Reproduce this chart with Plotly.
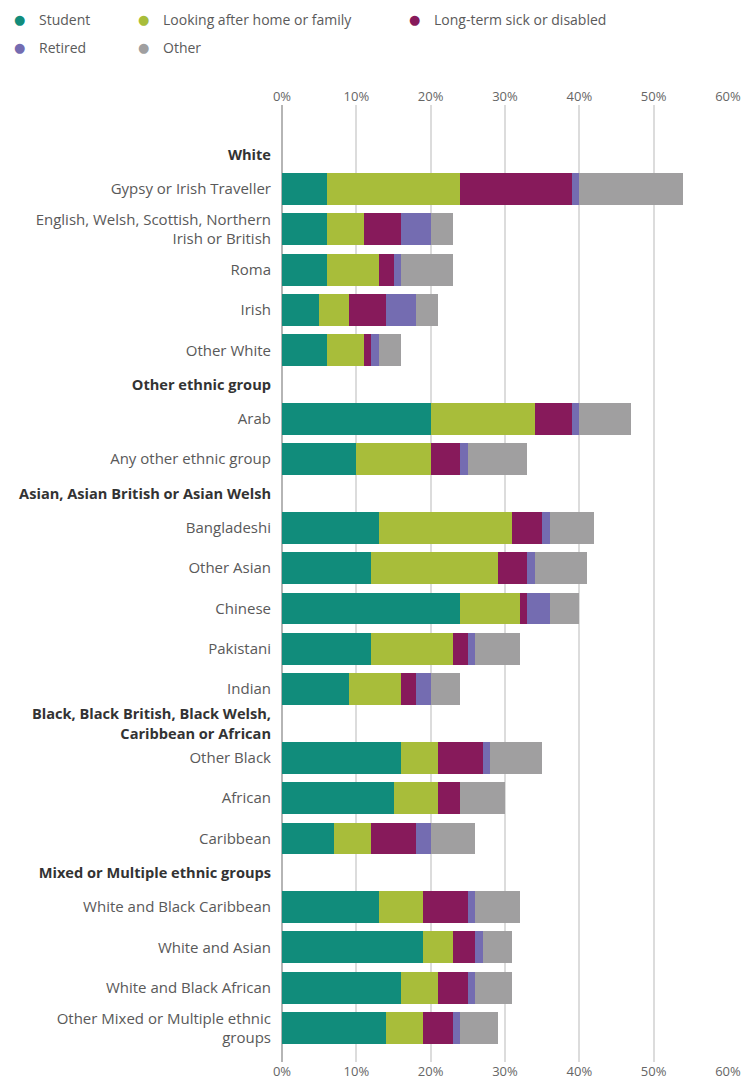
import plotly.graph_objects as go

# ---- data -----------------------------------------------------------------
series_names = ["Student", "Looking after home or family", "Long-term sick or disabled", "Retired", "Other"]
series_colors = ["#118c7b", "#a8bd3a", "#871a5b", "#746cb1", "#a09fa0"]

headings = [
    "White",
    "Other ethnic group",
    "Asian, Asian British or Asian Welsh",
    "Black, Black British, Black Welsh,<br>Caribbean or African",
    "Mixed or Multiple ethnic groups",
]

categories = [
    "Gypsy or Irish Traveller", "English, Welsh, Scottish, Northern<br>Irish or British", "Roma", "Irish", "Other White",
    "Arab", "Any other ethnic group",
    "Bangladeshi", "Other Asian", "Chinese", "Pakistani", "Indian",
    "Other Black", "African", "Caribbean",
    "White and Black Caribbean", "White and Asian", "White and Black African", "Other Mixed or Multiple ethnic<br>groups",
]
category_group = [0, 0, 0, 0, 0, 1, 1, 2, 2, 2, 2, 2, 3, 3, 3, 4, 4, 4, 4]

student = [6, 6, 6, 5, 6, 20, 10, 13, 12, 24, 12, 9, 16, 15, 7, 13, 19, 16, 14]
looking_after = [18, 5, 7, 4, 5, 14, 10, 18, 17, 8, 11, 7, 5, 6, 5, 6, 4, 5, 5]
long_term_sick = [15, 5, 2, 5, 1, 5, 4, 4, 4, 1, 2, 2, 6, 3, 6, 6, 3, 4, 4]
retired = [1, 4, 1, 4, 1, 1, 1, 1, 1, 3, 1, 2, 1, 0, 2, 1, 1, 1, 1]
other = [14, 3, 7, 3, 3, 7, 8, 6, 7, 4, 6, 4, 7, 6, 6, 6, 4, 5, 5]

x_ticks = [0, 10, 20, 30, 40, 50, 60]
x_tick_labels = ["0%", "10%", "20%", "30%", "40%", "50%", "60%"]

# ---- geometry ---------------------------------------------------------------
W, H = 744, 1084
M_L, M_R, M_T, M_B = 282, 16, 105, 22
PW, PH = W - M_L - M_R, H - M_T - M_B

# ---- row positions (headings take less room than bars) ---------------------
HEAD_STEP = 0.85
pos = 0.0
prev_group = None
cat_pos = []
tickvals, ticktext = [], []
first = True
for name, g in zip(categories, category_group):
    if g != prev_group:
        if not first:
            pos += HEAD_STEP
        tickvals.append(pos)
        ticktext.append("<span style='color:#333333;font-size:14.6px'><b>" + headings[g] + "</b></span>")
        pos += HEAD_STEP
        prev_group = g
    elif not first:
        pos += 1.0
    first = False
    cat_pos.append(pos)
    tickvals.append(pos)
    ticktext.append(name)

y_top = tickvals[0] - 1.23
y_bottom = cat_pos[-1] + 0.84

values = [student, looking_after, long_term_sick, retired, other]

fig = go.Figure()
for name, color, vals in zip(series_names, series_colors, values):
    fig.add_trace(go.Bar(
        x=vals, y=cat_pos, orientation="h", name=name,
        marker=dict(color=color, line=dict(width=0)),
        width=0.79, showlegend=False,
    ))

# invisible trace so the top axis is drawn
fig.add_trace(go.Scatter(x=[0], y=[cat_pos[0]], xaxis="x2", mode="markers",
                         marker=dict(opacity=0), showlegend=False, hoverinfo="skip"))

# ---- legend (two rows, three columns) as annotations -----------------------
legend_marker_px = [(19, 19), (143, 19), (414, 19), (19, 47), (143, 47)]
legend_text_dx = 18
annotations = []
for (mx, my), name, color in zip(legend_marker_px, series_names, series_colors):
    yp = (H - M_B - my) / PH
    annotations.append(dict(
        text="●", x=(mx - M_L) / PW, y=yp, xref="paper", yref="paper",
        xanchor="center", yanchor="middle", showarrow=False,
        font=dict(family="DejaVu Sans", size=13, color=color),
    ))
    annotations.append(dict(
        text=name, x=(mx + legend_text_dx - M_L) / PW, y=yp, xref="paper", yref="paper",
        xanchor="left", yanchor="middle", showarrow=False,
        font=dict(family="Open Sans", size=14, color="#5a5a5a"),
    ))

fig.update_layout(
    width=W, height=H,
    margin=dict(l=M_L, r=M_R, t=M_T, b=M_B, autoexpand=False),
    plot_bgcolor="white", paper_bgcolor="white",
    barmode="stack", bargap=0, showlegend=False,
    font=dict(family="Open Sans", size=14, color="#5a5a5a"),
    annotations=annotations,
    xaxis=dict(
        range=[0, 60], tickvals=x_ticks, ticktext=x_tick_labels,
        showgrid=True, gridcolor="#dcdcdc", gridwidth=1.5,
        zeroline=True, zerolinecolor="#b5b5b5", zerolinewidth=1.5,
        tickfont=dict(family="Open Sans", size=13, color="#666666"),
        ticks="", automargin=False,
    ),
    xaxis2=dict(
        range=[0, 60], tickvals=x_ticks, ticktext=x_tick_labels,
        overlaying="x", side="top", showgrid=False, zeroline=False,
        tickfont=dict(family="Open Sans", size=13, color="#666666"),
        ticks="", automargin=False,
    ),
    yaxis=dict(
        range=[y_bottom, y_top], tickvals=tickvals, ticktext=ticktext,
        showgrid=False, zeroline=False, ticks="", ticklabelstandoff=10,
        tickfont=dict(family="Open Sans", size=15, color="#595959"),
        automargin=False,
    ),
)

fig.write_html("out.html", post_script="document.body.style.margin='0';",
               config={"displayModeBar": False})
